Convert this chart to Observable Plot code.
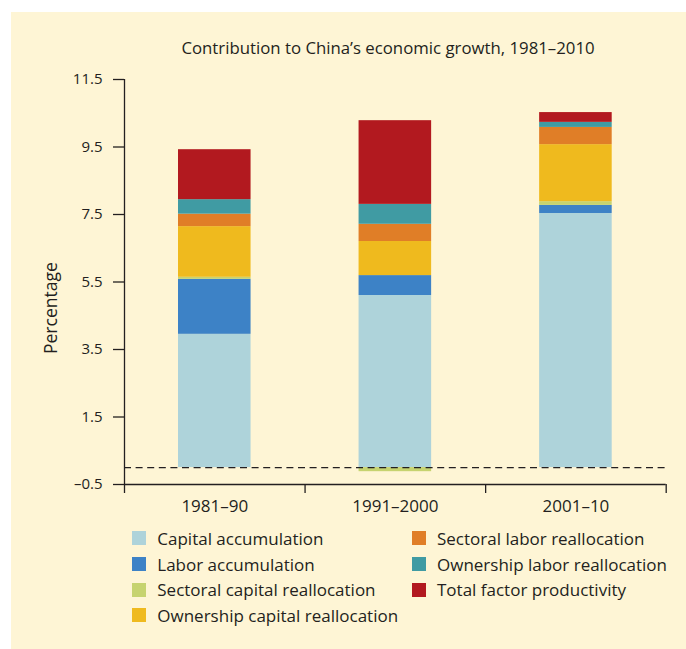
<!DOCTYPE html>
<html>
<head>
<meta charset="utf-8">
<script src="https://cdn.jsdelivr.net/npm/d3@7"></script>
<script src="https://cdn.jsdelivr.net/npm/@observablehq/plot@0.6"></script>
<style>
  html, body { margin: 0; padding: 0; background: #ffffff; overflow: hidden; }
  #panel { position: absolute; left: 11px; top: 12px; width: 675px; height: 637px; background: #FEF5D5;
           font-family: "Open Sans", sans-serif; color: #231F20; }
  #title { position: absolute; left: 377px; top: 26.5px; transform: translateX(-50%); white-space: nowrap;
           font-size: 16.8px; line-height: 17px; }
  #chart { position: absolute; left: 0; top: 48px; }
  .item { position: absolute; height: 26px; display: flex; align-items: center; white-space: nowrap;
          font-size: 17px; line-height: 17px; }
  .sw { width: 14px; height: 14px; margin-right: 11px; flex: none; }
</style>
</head>
<body>
<div id="panel">
  <div id="title">Contribution to China’s economic growth, 1981–2010</div>
  <div id="chart"></div>
  <div id="legend"></div>
</div>
<script>
const periods = ["1981–90", "1991–2000", "2001–10"];
const components = [
  "Capital accumulation",
  "Labor accumulation",
  "Sectoral capital reallocation",
  "Ownership capital reallocation",
  "Sectoral labor reallocation",
  "Ownership labor reallocation",
  "Total factor productivity"
];
const colors = ["#AED3DA", "#3D82C6", "#C6D36F", "#EFBA1E", "#E07E27", "#409BA3", "#B2191F"];

const capitalAccumulation = [3.95, 5.10, 7.53];
const laborAccumulation = [1.63, 0.59, 0.24];
const sectoralCapitalReallocation = [0.06, -0.12, 0.11];
const ownershipCapitalReallocation = [1.50, 1.01, 1.69];
const sectoralLaborReallocation = [0.37, 0.51, 0.51];
const ownershipLaborReallocation = [0.43, 0.59, 0.15];
const totalFactorProductivity = [1.48, 2.48, 0.29];

const yTicks = [-0.5, 1.5, 3.5, 5.5, 7.5, 9.5, 11.5];
const yLabel = "Percentage";

const series = [capitalAccumulation, laborAccumulation, sectoralCapitalReallocation,
  ownershipCapitalReallocation, sectoralLaborReallocation, ownershipLaborReallocation, totalFactorProductivity];

const data = periods.flatMap((p, i) =>
  series.map((s, k) => ({period: p, i, component: components[k], value: s[i]})));

const ink = "#231F20";
const fmt = d => (d < 0 ? "–" + Math.abs(d) : String(d));

const chart = Plot.plot({
  width: 675,
  height: 460,
  marginLeft: 113,
  marginRight: 20.3,
  marginTop: 19,
  marginBottom: 36,
  style: {background: "transparent", fontFamily: "Open Sans", fontSize: "15px", color: ink, overflow: "visible"},
  x: {domain: [0, periods.length]},
  y: {domain: [yTicks[0], yTicks[yTicks.length - 1]]},
  color: {domain: components, range: colors},
  marks: [
    Plot.rectY(data, Plot.stackY({
      x1: "i", x2: d => d.i + 1, y: "value", fill: "component",
      insetLeft: 54, insetRight: 54
    })),
    Plot.ruleY([0], {x1: 0, x2: periods.length, stroke: ink, strokeWidth: 1.3, strokeDasharray: "7,4.6"}),
    Plot.ruleX([0], {y1: yTicks[0], y2: yTicks[yTicks.length - 1], stroke: ink, strokeWidth: 1.3}),
    Plot.ruleY([yTicks[0]], {x1: 0, x2: periods.length, stroke: ink, strokeWidth: 1.3}),
    Plot.axisY({ticks: yTicks, tickSize: 11, tickPadding: 11, tickFormat: fmt, fontSize: 15,
      stroke: ink, strokeWidth: 1.3, label: null}),
    Plot.axisX({ticks: d3.range(periods.length + 1), tickSize: 9, tickFormat: () => "",
      stroke: ink, strokeWidth: 1.3, label: null}),
    Plot.axisX({ticks: periods.map((p, i) => i + 0.5), tickSize: 0, tickPadding: 15,
      tickFormat: d => periods[Math.floor(d)], fontSize: 17, label: null}),
    Plot.text([yLabel], {text: d => d, frameAnchor: "left", rotate: -90, dx: -73.5, dy: 72,
      fontSize: 17.5, fill: ink})
  ]
});
document.getElementById("chart").appendChild(chart);

// Legend
const legend = document.getElementById("legend");
const rowCenters = [526, 552, 577.5, 603];
const colLeft = [121.3, 401];
const leftCount = 4;
components.forEach((c, k) => {
  const col = k < leftCount ? 0 : 1;
  const row = k < leftCount ? k : k - leftCount;
  const item = document.createElement("div");
  item.className = "item";
  item.style.left = colLeft[col] + "px";
  item.style.top = (rowCenters[row] - 13) + "px";
  const sw = document.createElement("div");
  sw.className = "sw";
  sw.style.background = colors[k];
  const t = document.createElement("span");
  t.textContent = c;
  item.appendChild(sw);
  item.appendChild(t);
  legend.appendChild(item);
});
</script>
</body>
</html>
